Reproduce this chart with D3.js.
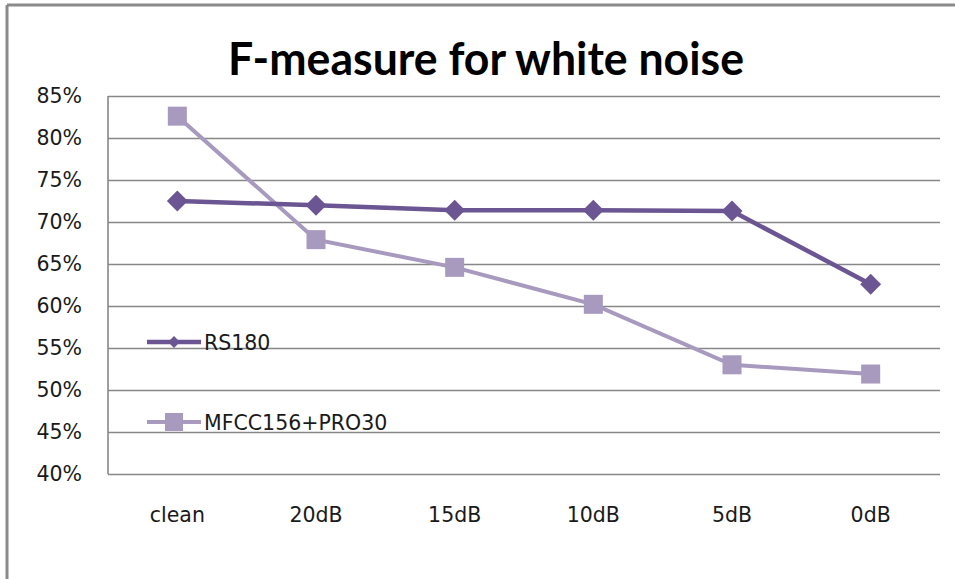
<!DOCTYPE html>
<html>
<head>
<meta charset="utf-8">
<script src="https://cdn.jsdelivr.net/npm/d3@7"></script>
<style>
  html, body { margin: 0; padding: 0; background: #fff; }
  svg { display: block; }
</style>
</head>
<body>
<svg id="chart" width="955" height="579"></svg>
<script>
// Noise conditions along the x axis
const categories = ["clean", "20dB", "15dB", "10dB", "5dB", "0dB"];
// F-measure (%) per condition
const rs180 = [72.5, 72.0, 71.4, 71.4, 71.3, 62.6];
const mfccPro = [82.6, 67.9, 64.6, 60.2, 53.0, 51.9];
const seriesNames = ["RS180", "MFCC156+PRO30"];
const yTicks = [40, 45, 50, 55, 60, 65, 70, 75, 80, 85];

const svg = d3.select("#chart");
const W = 955, H = 579;
const plot = { left: 108, right: 940, top: 96, bottom: 474 };
const darkPurple = "#6B5592";
const lightPurple = "#A899BF";
const gridColor = "#878787";
const font = "'DejaVu Sans', Verdana, sans-serif";
const labelSize = 20.5;

// outer chart frame (left and top edges are visible)
svg.append("line").attr("x1", 7).attr("x2", 7).attr("y1", 5).attr("y2", H)
  .attr("stroke", "#8a8a8a").attr("stroke-width", 3);
svg.append("line").attr("x1", 7).attr("x2", W).attr("y1", 5).attr("y2", 5)
  .attr("stroke", "#8a8a8a").attr("stroke-width", 3);

// title
svg.append("text")
  .attr("x", 486).attr("y", 75)
  .attr("text-anchor", "middle")
  .attr("font-family", "Lato, 'Open Sans', sans-serif")
  .attr("font-weight", "bold")
  .attr("font-size", 45)
  .attr("textLength", 516)
  .attr("lengthAdjust", "spacingAndGlyphs")
  .attr("fill", "#000")
  .text("F-measure for white noise");

const x = d3.scaleBand().domain(categories).range([plot.left, plot.right]);
const y = d3.scaleLinear().domain([40, 85]).range([plot.bottom, plot.top]);

// horizontal gridlines and percentage labels
const gy = svg.append("g")
  .attr("transform", `translate(${plot.left},0)`)
  .call(d3.axisLeft(y).tickValues(yTicks)
    .tickSize(-(plot.right - plot.left))
    .tickFormat(d => d + "%")
    .tickPadding(26));
gy.select(".domain").remove();
gy.selectAll(".tick line").attr("stroke", gridColor).attr("stroke-width", 1.6);
gy.selectAll(".tick text")
  .attr("font-family", font).attr("font-size", labelSize)
  .attr("fill", "#1a1a1a");

// left edge of the plot area
svg.append("line")
  .attr("x1", plot.left).attr("x2", plot.left)
  .attr("y1", plot.top).attr("y2", plot.bottom)
  .attr("stroke", gridColor).attr("stroke-width", 1.6);

// category labels
const gx = svg.append("g")
  .attr("transform", `translate(0,${plot.bottom})`)
  .call(d3.axisBottom(x).tickSize(0).tickPadding(33));
gx.select(".domain").remove();
gx.selectAll(".tick text")
  .attr("font-family", font).attr("font-size", labelSize)
  .attr("fill", "#1a1a1a");

const cx = c => x(c) + x.bandwidth() / 2;
const line = d3.line().x((d, i) => cx(categories[i])).y(d => y(d));

// MFCC156+PRO30 series (drawn first, behind)
svg.append("path").datum(mfccPro)
  .attr("d", line).attr("fill", "none")
  .attr("stroke", lightPurple).attr("stroke-width", 4);
svg.append("g").selectAll("rect").data(mfccPro).join("rect")
  .attr("x", (d, i) => cx(categories[i]) - 9.5)
  .attr("y", d => y(d) - 9.5)
  .attr("width", 19).attr("height", 19)
  .attr("fill", lightPurple);

// RS180 series
svg.append("path").datum(rs180)
  .attr("d", line).attr("fill", "none")
  .attr("stroke", darkPurple).attr("stroke-width", 4.5);
const diamond = d3.symbol().type(d3.symbolDiamond2).size(280);
svg.append("g").selectAll("path").data(rs180).join("path")
  .attr("d", diamond)
  .attr("transform", (d, i) => `translate(${cx(categories[i])},${y(d)})`)
  .attr("fill", darkPurple);

// legend
const legend = [
  { name: seriesNames[0], color: darkPurple, shape: "diamond", yy: 342, w: 4.5 },
  { name: seriesNames[1], color: lightPurple, shape: "square", yy: 422, w: 4 }
];
const lg = svg.append("g");
legend.forEach(l => {
  lg.append("line").attr("x1", 147).attr("x2", 201)
    .attr("y1", l.yy).attr("y2", l.yy)
    .attr("stroke", l.color).attr("stroke-width", l.w);
  if (l.shape === "diamond") {
    lg.append("path").attr("d", d3.symbol().type(d3.symbolDiamond2).size(90)())
      .attr("transform", `translate(174,${l.yy})`).attr("fill", l.color);
  } else {
    lg.append("rect").attr("x", 165).attr("y", l.yy - 9)
      .attr("width", 18).attr("height", 18).attr("fill", l.color);
  }
  lg.append("text").attr("x", 204).attr("y", l.yy + 8)
    .attr("font-family", font).attr("font-size", labelSize).attr("fill", "#1a1a1a")
    .text(l.name);
});
</script>
</body>
</html>
